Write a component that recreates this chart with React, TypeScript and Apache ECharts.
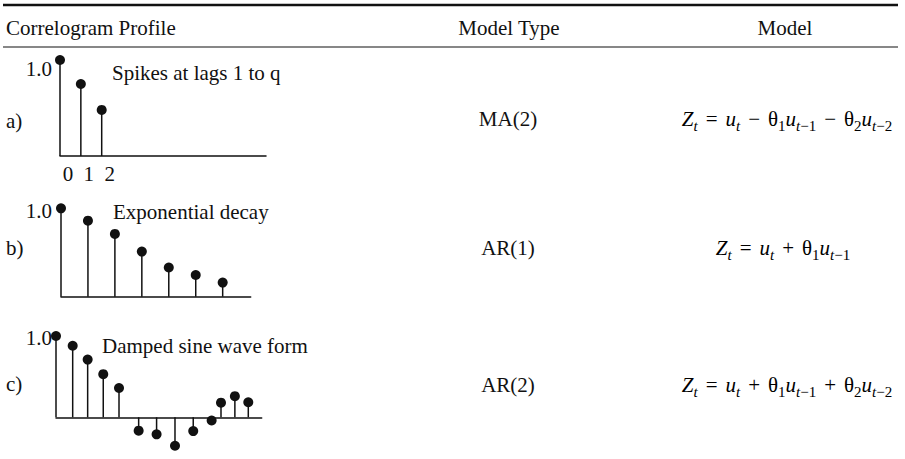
import { useEffect, useRef } from 'react';
import * as echarts from 'echarts';

const headers = ['Correlogram Profile', 'Model Type', 'Model'];
const rowLabels = ['a)', 'b)', 'c)'];
const descriptions = ['Spikes at lags 1 to q', 'Exponential decay', 'Damped sine wave form'];
const modelTypes = ['MA(2)', 'AR(1)', 'AR(2)'];
const formulas = [
  '{i|Z}{si|t}{op|=}{i|u}{si|t}{op|−}{n|θ}{sn|1}{i|u}{si|t}{sn|−1}{op|−}{n|θ}{sn|2}{i|u}{si|t}{sn|−2}',
  '{i|Z}{si|t}{op|=}{i|u}{si|t}{op|+}{n|θ}{sn|1}{i|u}{si|t}{sn|−1}',
  '{i|Z}{si|t}{op|=}{i|u}{si|t}{op|+}{n|θ}{sn|1}{i|u}{si|t}{sn|−1}{op|+}{n|θ}{sn|2}{i|u}{si|t}{sn|−2}',
];
const peakLabel = '1.0';
const tickLabelsA = ['0', '1', '2'];

const lagsA = [0, 1, 2];
const acfA = [1.0, 0.75, 0.48];
const lagsB = [0, 1, 2, 3, 4, 5, 6];
const acfB = [1.0, 0.86, 0.71, 0.51, 0.33, 0.245, 0.16];
const lagsC = [0, 1.07, 2.03, 3.03, 4.04, 5.3, 6.45, 7.63, 8.8, 9.98, 10.58, 11.47, 12.33];
const acfC = [1.0, 0.88, 0.71, 0.53, 0.36, -0.165, -0.21, -0.35, -0.17, -0.04, 0.18, 0.26, 0.185];

const FONT = 'Liberation Serif';
const INK = '#111';

function pairs(xs: number[], ys: number[]) {
  return xs.map((x, i) => [x, ys[i]]);
}

const stemRender = (params: any, api: any) => {
  const x = api.value(0);
  const y = api.value(1);
  const p0 = api.coord([x, 0]);
  const p1 = api.coord([x, y]);
  return {
    type: 'line',
    shape: { x1: p0[0], y1: p0[1], x2: p1[0], y2: p1[1] },
    style: { stroke: INK, lineWidth: 1.5 },
  };
};

export default function App() {
  const ref = useRef<HTMLDivElement>(null);
  useEffect(() => {
    if (!ref.current) return;
    const chart = echarts.init(ref.current, undefined, { renderer: 'svg' });
    const panels = [
      { lags: lagsA, acf: acfA },
      { lags: lagsB, acf: acfB },
      { lags: lagsC, acf: acfC },
    ];
    const grids = [
      { left: 60, top: 60, width: 206, height: 96 },
      { left: 61, top: 208.3, width: 189.7, height: 88.4 },
      { left: 56, top: 336, width: 205.7, height: 113.8 },
    ];
    const xRanges = [9.88, 7.04, 13.19];
    const yMins = [0, 0, -0.4];

    const baseText = { fontFamily: FONT, fontSize: 21, fill: INK };
    const rich = {
      n: { fontFamily: FONT, fontSize: 21, lineHeight: 28, color: INK },
      op: { fontFamily: FONT, fontSize: 21, lineHeight: 28, color: INK, padding: [0, 8, 0, 8] },
      i: { fontFamily: FONT, fontSize: 21, fontStyle: 'italic', lineHeight: 28, color: INK },
      sn: { fontFamily: FONT, fontSize: 15, lineHeight: 14, verticalAlign: 'bottom', color: INK },
      si: { fontFamily: FONT, fontSize: 15, fontStyle: 'italic', lineHeight: 14, verticalAlign: 'bottom', color: INK },
    };
    const rowY = [119, 248, 385];
    const peakY = [69, 211, 338];
    const descPos = [[112, 73], [113, 212], [102, 346]];
    const rowLabelY = [121, 248, 384];
    const formulaX = [787, 783, 787];

    const graphic: any[] = [
      { type: 'line', shape: { x1: 3, y1: 5, x2: 898, y2: 5 }, style: { stroke: INK, lineWidth: 2.5 } },
      { type: 'line', shape: { x1: 3, y1: 47, x2: 898, y2: 47 }, style: { stroke: INK, lineWidth: 1.2 } },
      { type: 'text', x: 6, y: 28, style: { ...baseText, text: headers[0], align: 'left', verticalAlign: 'middle' } },
      { type: 'text', x: 509, y: 28, style: { ...baseText, text: headers[1], align: 'center', verticalAlign: 'middle' } },
      { type: 'text', x: 785, y: 28, style: { ...baseText, text: headers[2], align: 'center', verticalAlign: 'middle' } },
    ];
    for (let r = 0; r < 3; r++) {
      graphic.push(
        { type: 'text', x: 6, y: rowLabelY[r], style: { ...baseText, text: rowLabels[r], align: 'left', verticalAlign: 'middle' } },
        { type: 'text', x: 52, y: peakY[r], style: { ...baseText, text: peakLabel, align: 'right', verticalAlign: 'middle' } },
        { type: 'text', x: descPos[r][0], y: descPos[r][1], style: { ...baseText, text: descriptions[r], align: 'left', verticalAlign: 'middle' } },
        { type: 'text', x: 508, y: rowY[r], style: { ...baseText, text: modelTypes[r], align: 'center', verticalAlign: 'middle' } },
        { type: 'text', x: formulaX[r], y: rowY[r], style: { text: formulas[r], rich, align: 'center', verticalAlign: 'middle' } },
      );
    }

    const option: any = {
      animation: false,
      backgroundColor: '#fff',
      grid: grids.map((g) => ({ ...g, containLabel: false })),
      xAxis: grids.map((_, k) => ({
        type: 'value',
        gridIndex: k,
        min: 0,
        max: xRanges[k],
        interval: 1,
        axisLine: { show: true, onZero: true, lineStyle: { color: INK, width: 1.5 } },
        axisTick: { show: false },
        splitLine: { show: false },
        axisLabel: k === 0
          ? {
              show: true,
              formatter: (v: number) => tickLabelsA[v] ?? '',
              fontFamily: FONT,
              fontSize: 21,
              color: INK,
              margin: 7,
              padding: [0, 0, 0, 16],
              showMaxLabel: false,
            }
          : { show: false },
      })),
      yAxis: grids.map((_, k) => ({
        type: 'value',
        gridIndex: k,
        min: yMins[k],
        max: 1,
        show: false,
        splitLine: { show: false },
      })),
      series: panels.flatMap((p, k) => [
        {
          type: 'custom',
          xAxisIndex: k,
          yAxisIndex: k,
          clip: false,
          renderItem: stemRender,
          data: pairs(p.lags, p.acf),
          silent: true,
        },
        {
          type: 'scatter',
          xAxisIndex: k,
          yAxisIndex: k,
          clip: false,
          symbol: 'circle',
          symbolSize: 10,
          itemStyle: { color: INK, opacity: 1 },
          data: pairs(p.lags, p.acf),
          silent: true,
        },
      ]),
      graphic,
    };
    chart.setOption(option);
    return () => chart.dispose();
  }, []);
  return (
    <div
      ref={ref}
      style={{ position: 'fixed', left: 0, top: 0, width: 905, height: 459, background: '#fff' }}
    />
  );
}
